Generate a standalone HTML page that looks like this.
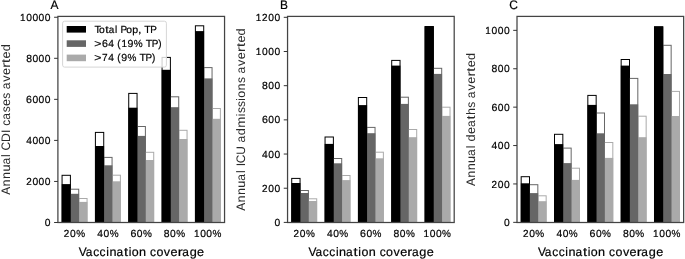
<!DOCTYPE html><html><head><meta charset="utf-8"><title>Vaccination coverage bar charts</title><style>html,body{margin:0;padding:0;background:#fff;}svg{display:block;will-change:transform;}text{font-family:"Liberation Sans", sans-serif;fill:#000;text-rendering:geometricPrecision;stroke:#000;stroke-width:0.2px;}text.r{stroke:none;fill:#2a2a2a;}</style></head><body>
<svg width="685" height="259" viewBox="0 0 685 259">
<rect x="0" y="0" width="685" height="259" fill="#fff"/>
<g>
<rect x="62.07" y="175.3" width="8.33" height="47.2" fill="none" stroke="#000000" stroke-width="1.0"/>
<rect x="70.4" y="189.2" width="8.33" height="33.3" fill="none" stroke="#666666" stroke-width="1.0"/>
<rect x="78.73" y="198.5" width="8.33" height="24" fill="none" stroke="#aaaaaa" stroke-width="1.0"/>
<rect x="95.4" y="132.4" width="8.33" height="90.1" fill="none" stroke="#000000" stroke-width="1.0"/>
<rect x="103.73" y="157.4" width="8.33" height="65.1" fill="none" stroke="#666666" stroke-width="1.0"/>
<rect x="112.06" y="175.2" width="8.33" height="47.3" fill="none" stroke="#aaaaaa" stroke-width="1.0"/>
<rect x="128.73" y="93.4" width="8.33" height="129.1" fill="none" stroke="#000000" stroke-width="1.0"/>
<rect x="137.06" y="126.5" width="8.33" height="96" fill="none" stroke="#666666" stroke-width="1.0"/>
<rect x="145.39" y="152.3" width="8.33" height="70.2" fill="none" stroke="#aaaaaa" stroke-width="1.0"/>
<rect x="162.06" y="57.4" width="8.33" height="165.1" fill="none" stroke="#000000" stroke-width="1.0"/>
<rect x="170.39" y="96.8" width="8.33" height="125.7" fill="none" stroke="#666666" stroke-width="1.0"/>
<rect x="178.72" y="130.3" width="8.33" height="92.2" fill="none" stroke="#aaaaaa" stroke-width="1.0"/>
<rect x="195.39" y="25.8" width="8.33" height="196.7" fill="none" stroke="#000000" stroke-width="1.0"/>
<rect x="203.72" y="67.6" width="8.33" height="154.9" fill="none" stroke="#666666" stroke-width="1.0"/>
<rect x="212.05" y="108.5" width="8.33" height="114" fill="none" stroke="#aaaaaa" stroke-width="1.0"/>
<rect x="78.38" y="201.9" width="9.03" height="20.6" fill="#aaaaaa"/>
<rect x="70.05" y="193.8" width="9.03" height="28.7" fill="#666666"/>
<rect x="61.72" y="184.1" width="9.03" height="38.4" fill="#000000"/>
<rect x="111.71" y="181.3" width="9.03" height="41.2" fill="#aaaaaa"/>
<rect x="103.38" y="165.3" width="9.03" height="57.2" fill="#666666"/>
<rect x="95.05" y="146" width="9.03" height="76.5" fill="#000000"/>
<rect x="145.04" y="160" width="9.03" height="62.5" fill="#aaaaaa"/>
<rect x="136.71" y="135.9" width="9.03" height="86.6" fill="#666666"/>
<rect x="128.38" y="107.7" width="9.03" height="114.8" fill="#000000"/>
<rect x="178.37" y="139" width="9.03" height="83.5" fill="#aaaaaa"/>
<rect x="170.04" y="107.2" width="9.03" height="115.3" fill="#666666"/>
<rect x="161.71" y="69.8" width="9.03" height="152.7" fill="#000000"/>
<rect x="211.7" y="118.8" width="9.03" height="103.7" fill="#aaaaaa"/>
<rect x="203.37" y="78.4" width="9.03" height="144.1" fill="#666666"/>
<rect x="195.04" y="31.1" width="9.03" height="191.4" fill="#000000"/>
<rect x="57.9" y="16.4" width="166.65" height="206.1" fill="none" stroke="#444" stroke-width="1.25"/>
<line x1="54.1" y1="222.5" x2="57.9" y2="222.5" stroke="#333" stroke-width="1.0"/>
<text transform="translate(50.10 226.05)" y="0" font-size="10.24"><tspan x="-5.31" textLength="5.72" lengthAdjust="spacingAndGlyphs">0</tspan></text>
<line x1="54.1" y1="181.45" x2="57.9" y2="181.45" stroke="#333" stroke-width="1.0"/>
<text transform="translate(50.10 185.00)" y="0" font-size="10.24"><tspan x="-23.96" textLength="5.52" lengthAdjust="spacingAndGlyphs">2</tspan><tspan x="-17.72" textLength="5.72" lengthAdjust="spacingAndGlyphs">0</tspan><tspan x="-11.52" textLength="5.72" lengthAdjust="spacingAndGlyphs">0</tspan><tspan x="-5.31" textLength="5.72" lengthAdjust="spacingAndGlyphs">0</tspan></text>
<line x1="54.1" y1="140.4" x2="57.9" y2="140.4" stroke="#333" stroke-width="1.0"/>
<text transform="translate(50.10 143.95)" y="0" font-size="10.24"><tspan x="-23.92" textLength="5.72" lengthAdjust="spacingAndGlyphs">4</tspan><tspan x="-17.72" textLength="5.72" lengthAdjust="spacingAndGlyphs">0</tspan><tspan x="-11.52" textLength="5.72" lengthAdjust="spacingAndGlyphs">0</tspan><tspan x="-5.31" textLength="5.72" lengthAdjust="spacingAndGlyphs">0</tspan></text>
<line x1="54.1" y1="99.35" x2="57.9" y2="99.35" stroke="#333" stroke-width="1.0"/>
<text transform="translate(50.10 102.90)" y="0" font-size="10.24"><tspan x="-24.02" textLength="5.92" lengthAdjust="spacingAndGlyphs">6</tspan><tspan x="-17.72" textLength="5.72" lengthAdjust="spacingAndGlyphs">0</tspan><tspan x="-11.52" textLength="5.72" lengthAdjust="spacingAndGlyphs">0</tspan><tspan x="-5.31" textLength="5.72" lengthAdjust="spacingAndGlyphs">0</tspan></text>
<line x1="54.1" y1="58.3" x2="57.9" y2="58.3" stroke="#333" stroke-width="1.0"/>
<text transform="translate(50.10 61.85)" y="0" font-size="10.24"><tspan x="-23.96" textLength="5.78" lengthAdjust="spacingAndGlyphs">8</tspan><tspan x="-17.72" textLength="5.72" lengthAdjust="spacingAndGlyphs">0</tspan><tspan x="-11.52" textLength="5.72" lengthAdjust="spacingAndGlyphs">0</tspan><tspan x="-5.31" textLength="5.72" lengthAdjust="spacingAndGlyphs">0</tspan></text>
<line x1="54.1" y1="17.25" x2="57.9" y2="17.25" stroke="#333" stroke-width="1.0"/>
<text transform="translate(50.10 20.80)" y="0" font-size="10.24"><tspan x="-30.08" textLength="5.52" lengthAdjust="spacingAndGlyphs">1</tspan><tspan x="-23.92" textLength="5.72" lengthAdjust="spacingAndGlyphs">0</tspan><tspan x="-17.72" textLength="5.72" lengthAdjust="spacingAndGlyphs">0</tspan><tspan x="-11.52" textLength="5.72" lengthAdjust="spacingAndGlyphs">0</tspan><tspan x="-5.31" textLength="5.72" lengthAdjust="spacingAndGlyphs">0</tspan></text>
<text transform="translate(74.56 236.80)" y="0" font-size="10.24"><tspan x="-10.71" textLength="5.52" lengthAdjust="spacingAndGlyphs">2</tspan><tspan x="-4.48" textLength="5.72" lengthAdjust="spacingAndGlyphs">0</tspan><tspan x="1.66" textLength="8.90" lengthAdjust="spacingAndGlyphs">%</tspan></text>
<text transform="translate(107.89 236.80)" y="0" font-size="10.24"><tspan x="-10.56" textLength="5.72" lengthAdjust="spacingAndGlyphs">4</tspan><tspan x="-4.36" textLength="5.72" lengthAdjust="spacingAndGlyphs">0</tspan><tspan x="1.78" textLength="8.90" lengthAdjust="spacingAndGlyphs">%</tspan></text>
<text transform="translate(141.22 236.80)" y="0" font-size="10.24"><tspan x="-10.77" textLength="5.92" lengthAdjust="spacingAndGlyphs">6</tspan><tspan x="-4.46" textLength="5.72" lengthAdjust="spacingAndGlyphs">0</tspan><tspan x="1.68" textLength="8.90" lengthAdjust="spacingAndGlyphs">%</tspan></text>
<text transform="translate(174.56 236.80)" y="0" font-size="10.24"><tspan x="-10.69" textLength="5.78" lengthAdjust="spacingAndGlyphs">8</tspan><tspan x="-4.45" textLength="5.72" lengthAdjust="spacingAndGlyphs">0</tspan><tspan x="1.69" textLength="8.90" lengthAdjust="spacingAndGlyphs">%</tspan></text>
<text transform="translate(207.88 236.80)" y="0" font-size="10.24"><tspan x="-13.91" textLength="5.52" lengthAdjust="spacingAndGlyphs">1</tspan><tspan x="-7.76" textLength="5.72" lengthAdjust="spacingAndGlyphs">0</tspan><tspan x="-1.56" textLength="5.72" lengthAdjust="spacingAndGlyphs">0</tspan><tspan x="4.59" textLength="8.90" lengthAdjust="spacingAndGlyphs">%</tspan></text>
<text transform="translate(141.22 255.70)" y="0" font-size="12.30"><tspan x="-62.42" textLength="7.96" lengthAdjust="spacingAndGlyphs">V</tspan><tspan x="-55.51" textLength="6.64" lengthAdjust="spacingAndGlyphs">a</tspan><tspan x="-48.08" textLength="5.97" lengthAdjust="spacingAndGlyphs">c</tspan><tspan x="-41.65" textLength="5.97" lengthAdjust="spacingAndGlyphs">c</tspan><tspan x="-35.01" textLength="2.66" lengthAdjust="spacingAndGlyphs">i</tspan><tspan x="-31.84" textLength="7.02" lengthAdjust="spacingAndGlyphs">n</tspan><tspan x="-24.81" textLength="6.64" lengthAdjust="spacingAndGlyphs">a</tspan><tspan x="-17.27" textLength="4.10" lengthAdjust="spacingAndGlyphs">t</tspan><tspan x="-12.59" textLength="2.66" lengthAdjust="spacingAndGlyphs">i</tspan><tspan x="-9.51" textLength="6.92" lengthAdjust="spacingAndGlyphs">o</tspan><tspan x="-2.25" textLength="7.02" lengthAdjust="spacingAndGlyphs">n</tspan> <tspan x="8.75" textLength="5.97" lengthAdjust="spacingAndGlyphs">c</tspan><tspan x="15.21" textLength="6.92" lengthAdjust="spacingAndGlyphs">o</tspan><tspan x="22.55" textLength="6.31" lengthAdjust="spacingAndGlyphs">v</tspan><tspan x="29.28" textLength="7.03" lengthAdjust="spacingAndGlyphs">e</tspan><tspan x="36.48" textLength="4.92" lengthAdjust="spacingAndGlyphs">r</tspan><tspan x="41.01" textLength="6.64" lengthAdjust="spacingAndGlyphs">a</tspan><tspan x="48.46" textLength="7.07" lengthAdjust="spacingAndGlyphs">g</tspan><tspan x="55.88" textLength="7.03" lengthAdjust="spacingAndGlyphs">e</tspan></text>
<text class="r" transform="translate(9.70 119.75) rotate(-90)" y="0" font-size="12.30"><tspan x="-74.88" textLength="7.96" lengthAdjust="spacingAndGlyphs">A</tspan><tspan x="-66.67" textLength="7.02" lengthAdjust="spacingAndGlyphs">n</tspan><tspan x="-59.25" textLength="7.02" lengthAdjust="spacingAndGlyphs">n</tspan><tspan x="-51.89" textLength="7.01" lengthAdjust="spacingAndGlyphs">u</tspan><tspan x="-44.81" textLength="6.64" lengthAdjust="spacingAndGlyphs">a</tspan><tspan x="-37.18" textLength="2.66" lengthAdjust="spacingAndGlyphs">l</tspan> <tspan x="-30.79" textLength="8.62" lengthAdjust="spacingAndGlyphs">C</tspan><tspan x="-22.18" textLength="8.74" lengthAdjust="spacingAndGlyphs">D</tspan><tspan x="-13.32" textLength="3.44" lengthAdjust="spacingAndGlyphs">I</tspan> <tspan x="-6.06" textLength="5.97" lengthAdjust="spacingAndGlyphs">c</tspan><tspan x="0.11" textLength="6.64" lengthAdjust="spacingAndGlyphs">a</tspan><tspan x="7.59" textLength="5.97" lengthAdjust="spacingAndGlyphs">s</tspan><tspan x="13.65" textLength="7.03" lengthAdjust="spacingAndGlyphs">e</tspan><tspan x="20.88" textLength="5.97" lengthAdjust="spacingAndGlyphs">s</tspan> <tspan x="30.39" textLength="6.64" lengthAdjust="spacingAndGlyphs">a</tspan><tspan x="38.03" textLength="6.31" lengthAdjust="spacingAndGlyphs">v</tspan><tspan x="44.75" textLength="7.03" lengthAdjust="spacingAndGlyphs">e</tspan><tspan x="51.96" textLength="4.92" lengthAdjust="spacingAndGlyphs">r</tspan><tspan x="56.86" textLength="4.10" lengthAdjust="spacingAndGlyphs">t</tspan><tspan x="61.35" textLength="7.03" lengthAdjust="spacingAndGlyphs">e</tspan><tspan x="68.55" textLength="7.07" lengthAdjust="spacingAndGlyphs">d</tspan></text>
<text transform="translate(54.50 9.30)" y="0" font-size="12.30"><tspan x="-3.98" textLength="7.96" lengthAdjust="spacingAndGlyphs">A</tspan></text>
</g>
<g>
<rect x="291.72" y="178.4" width="8.33" height="44.1" fill="none" stroke="#000000" stroke-width="1.0"/>
<rect x="300.05" y="190.5" width="8.33" height="32" fill="none" stroke="#666666" stroke-width="1.0"/>
<rect x="308.38" y="198.8" width="8.33" height="23.7" fill="none" stroke="#aaaaaa" stroke-width="1.0"/>
<rect x="325.05" y="137" width="8.33" height="85.5" fill="none" stroke="#000000" stroke-width="1.0"/>
<rect x="333.38" y="158.5" width="8.33" height="64" fill="none" stroke="#666666" stroke-width="1.0"/>
<rect x="341.71" y="175.5" width="8.33" height="47" fill="none" stroke="#aaaaaa" stroke-width="1.0"/>
<rect x="358.38" y="97.5" width="8.33" height="125" fill="none" stroke="#000000" stroke-width="1.0"/>
<rect x="366.71" y="127.4" width="8.33" height="95.1" fill="none" stroke="#666666" stroke-width="1.0"/>
<rect x="375.04" y="152.2" width="8.33" height="70.3" fill="none" stroke="#aaaaaa" stroke-width="1.0"/>
<rect x="391.71" y="60.4" width="8.33" height="162.1" fill="none" stroke="#000000" stroke-width="1.0"/>
<rect x="400.04" y="97.2" width="8.33" height="125.3" fill="none" stroke="#666666" stroke-width="1.0"/>
<rect x="408.37" y="129.5" width="8.33" height="93" fill="none" stroke="#aaaaaa" stroke-width="1.0"/>
<rect x="425.04" y="26.5" width="8.33" height="196" fill="none" stroke="#000000" stroke-width="1.0"/>
<rect x="433.37" y="68.3" width="8.33" height="154.2" fill="none" stroke="#666666" stroke-width="1.0"/>
<rect x="441.7" y="107.2" width="8.33" height="115.3" fill="none" stroke="#aaaaaa" stroke-width="1.0"/>
<rect x="308.03" y="201" width="9.03" height="21.5" fill="#aaaaaa"/>
<rect x="299.7" y="193" width="9.03" height="29.5" fill="#666666"/>
<rect x="291.37" y="183" width="9.03" height="39.5" fill="#000000"/>
<rect x="341.36" y="180.1" width="9.03" height="42.4" fill="#aaaaaa"/>
<rect x="333.03" y="163.3" width="9.03" height="59.2" fill="#666666"/>
<rect x="324.7" y="143.9" width="9.03" height="78.6" fill="#000000"/>
<rect x="374.69" y="158.3" width="9.03" height="64.2" fill="#aaaaaa"/>
<rect x="366.36" y="133.2" width="9.03" height="89.3" fill="#666666"/>
<rect x="358.03" y="105.1" width="9.03" height="117.4" fill="#000000"/>
<rect x="408.02" y="137.2" width="9.03" height="85.3" fill="#aaaaaa"/>
<rect x="399.69" y="103.9" width="9.03" height="118.6" fill="#666666"/>
<rect x="391.36" y="65.6" width="9.03" height="156.9" fill="#000000"/>
<rect x="441.35" y="115.9" width="9.03" height="106.6" fill="#aaaaaa"/>
<rect x="433.02" y="73.9" width="9.03" height="148.6" fill="#666666"/>
<rect x="424.69" y="26.5" width="9.03" height="196" fill="#000000"/>
<rect x="287.55" y="16.4" width="166.65" height="206.1" fill="none" stroke="#444" stroke-width="1.25"/>
<line x1="283.75" y1="222.4" x2="287.55" y2="222.4" stroke="#333" stroke-width="1.0"/>
<text transform="translate(279.75 225.95)" y="0" font-size="10.24"><tspan x="-5.31" textLength="5.72" lengthAdjust="spacingAndGlyphs">0</tspan></text>
<line x1="283.75" y1="188.22" x2="287.55" y2="188.22" stroke="#333" stroke-width="1.0"/>
<text transform="translate(279.75 191.77)" y="0" font-size="10.24"><tspan x="-17.75" textLength="5.52" lengthAdjust="spacingAndGlyphs">2</tspan><tspan x="-11.52" textLength="5.72" lengthAdjust="spacingAndGlyphs">0</tspan><tspan x="-5.31" textLength="5.72" lengthAdjust="spacingAndGlyphs">0</tspan></text>
<line x1="283.75" y1="154.04" x2="287.55" y2="154.04" stroke="#333" stroke-width="1.0"/>
<text transform="translate(279.75 157.59)" y="0" font-size="10.24"><tspan x="-17.72" textLength="5.72" lengthAdjust="spacingAndGlyphs">4</tspan><tspan x="-11.52" textLength="5.72" lengthAdjust="spacingAndGlyphs">0</tspan><tspan x="-5.31" textLength="5.72" lengthAdjust="spacingAndGlyphs">0</tspan></text>
<line x1="283.75" y1="119.86" x2="287.55" y2="119.86" stroke="#333" stroke-width="1.0"/>
<text transform="translate(279.75 123.41)" y="0" font-size="10.24"><tspan x="-17.82" textLength="5.92" lengthAdjust="spacingAndGlyphs">6</tspan><tspan x="-11.52" textLength="5.72" lengthAdjust="spacingAndGlyphs">0</tspan><tspan x="-5.31" textLength="5.72" lengthAdjust="spacingAndGlyphs">0</tspan></text>
<line x1="283.75" y1="85.68" x2="287.55" y2="85.68" stroke="#333" stroke-width="1.0"/>
<text transform="translate(279.75 89.23)" y="0" font-size="10.24"><tspan x="-17.75" textLength="5.78" lengthAdjust="spacingAndGlyphs">8</tspan><tspan x="-11.52" textLength="5.72" lengthAdjust="spacingAndGlyphs">0</tspan><tspan x="-5.31" textLength="5.72" lengthAdjust="spacingAndGlyphs">0</tspan></text>
<line x1="283.75" y1="51.5" x2="287.55" y2="51.5" stroke="#333" stroke-width="1.0"/>
<text transform="translate(279.75 55.05)" y="0" font-size="10.24"><tspan x="-23.88" textLength="5.52" lengthAdjust="spacingAndGlyphs">1</tspan><tspan x="-17.72" textLength="5.72" lengthAdjust="spacingAndGlyphs">0</tspan><tspan x="-11.52" textLength="5.72" lengthAdjust="spacingAndGlyphs">0</tspan><tspan x="-5.31" textLength="5.72" lengthAdjust="spacingAndGlyphs">0</tspan></text>
<line x1="283.75" y1="17.32" x2="287.55" y2="17.32" stroke="#333" stroke-width="1.0"/>
<text transform="translate(279.75 20.87)" y="0" font-size="10.24"><tspan x="-23.88" textLength="5.52" lengthAdjust="spacingAndGlyphs">1</tspan><tspan x="-17.75" textLength="5.52" lengthAdjust="spacingAndGlyphs">2</tspan><tspan x="-11.52" textLength="5.72" lengthAdjust="spacingAndGlyphs">0</tspan><tspan x="-5.31" textLength="5.72" lengthAdjust="spacingAndGlyphs">0</tspan></text>
<text transform="translate(304.22 236.80)" y="0" font-size="10.24"><tspan x="-10.71" textLength="5.52" lengthAdjust="spacingAndGlyphs">2</tspan><tspan x="-4.48" textLength="5.72" lengthAdjust="spacingAndGlyphs">0</tspan><tspan x="1.66" textLength="8.90" lengthAdjust="spacingAndGlyphs">%</tspan></text>
<text transform="translate(337.55 236.80)" y="0" font-size="10.24"><tspan x="-10.56" textLength="5.72" lengthAdjust="spacingAndGlyphs">4</tspan><tspan x="-4.36" textLength="5.72" lengthAdjust="spacingAndGlyphs">0</tspan><tspan x="1.78" textLength="8.90" lengthAdjust="spacingAndGlyphs">%</tspan></text>
<text transform="translate(370.88 236.80)" y="0" font-size="10.24"><tspan x="-10.77" textLength="5.92" lengthAdjust="spacingAndGlyphs">6</tspan><tspan x="-4.46" textLength="5.72" lengthAdjust="spacingAndGlyphs">0</tspan><tspan x="1.68" textLength="8.90" lengthAdjust="spacingAndGlyphs">%</tspan></text>
<text transform="translate(404.21 236.80)" y="0" font-size="10.24"><tspan x="-10.69" textLength="5.78" lengthAdjust="spacingAndGlyphs">8</tspan><tspan x="-4.45" textLength="5.72" lengthAdjust="spacingAndGlyphs">0</tspan><tspan x="1.69" textLength="8.90" lengthAdjust="spacingAndGlyphs">%</tspan></text>
<text transform="translate(437.53 236.80)" y="0" font-size="10.24"><tspan x="-13.91" textLength="5.52" lengthAdjust="spacingAndGlyphs">1</tspan><tspan x="-7.76" textLength="5.72" lengthAdjust="spacingAndGlyphs">0</tspan><tspan x="-1.56" textLength="5.72" lengthAdjust="spacingAndGlyphs">0</tspan><tspan x="4.59" textLength="8.90" lengthAdjust="spacingAndGlyphs">%</tspan></text>
<text transform="translate(370.88 255.70)" y="0" font-size="12.30"><tspan x="-62.42" textLength="7.96" lengthAdjust="spacingAndGlyphs">V</tspan><tspan x="-55.51" textLength="6.64" lengthAdjust="spacingAndGlyphs">a</tspan><tspan x="-48.08" textLength="5.97" lengthAdjust="spacingAndGlyphs">c</tspan><tspan x="-41.65" textLength="5.97" lengthAdjust="spacingAndGlyphs">c</tspan><tspan x="-35.01" textLength="2.66" lengthAdjust="spacingAndGlyphs">i</tspan><tspan x="-31.84" textLength="7.02" lengthAdjust="spacingAndGlyphs">n</tspan><tspan x="-24.81" textLength="6.64" lengthAdjust="spacingAndGlyphs">a</tspan><tspan x="-17.27" textLength="4.10" lengthAdjust="spacingAndGlyphs">t</tspan><tspan x="-12.59" textLength="2.66" lengthAdjust="spacingAndGlyphs">i</tspan><tspan x="-9.51" textLength="6.92" lengthAdjust="spacingAndGlyphs">o</tspan><tspan x="-2.25" textLength="7.02" lengthAdjust="spacingAndGlyphs">n</tspan> <tspan x="8.75" textLength="5.97" lengthAdjust="spacingAndGlyphs">c</tspan><tspan x="15.21" textLength="6.92" lengthAdjust="spacingAndGlyphs">o</tspan><tspan x="22.55" textLength="6.31" lengthAdjust="spacingAndGlyphs">v</tspan><tspan x="29.28" textLength="7.03" lengthAdjust="spacingAndGlyphs">e</tspan><tspan x="36.48" textLength="4.92" lengthAdjust="spacingAndGlyphs">r</tspan><tspan x="41.01" textLength="6.64" lengthAdjust="spacingAndGlyphs">a</tspan><tspan x="48.46" textLength="7.07" lengthAdjust="spacingAndGlyphs">g</tspan><tspan x="55.88" textLength="7.03" lengthAdjust="spacingAndGlyphs">e</tspan></text>
<text class="r" transform="translate(245.00 119.90) rotate(-90)" y="0" font-size="12.30"><tspan x="-90.83" textLength="7.96" lengthAdjust="spacingAndGlyphs">A</tspan><tspan x="-82.63" textLength="7.02" lengthAdjust="spacingAndGlyphs">n</tspan><tspan x="-75.21" textLength="7.02" lengthAdjust="spacingAndGlyphs">n</tspan><tspan x="-67.84" textLength="7.01" lengthAdjust="spacingAndGlyphs">u</tspan><tspan x="-60.77" textLength="6.64" lengthAdjust="spacingAndGlyphs">a</tspan><tspan x="-53.14" textLength="2.66" lengthAdjust="spacingAndGlyphs">l</tspan> <tspan x="-46.46" textLength="3.44" lengthAdjust="spacingAndGlyphs">I</tspan><tspan x="-43.30" textLength="8.62" lengthAdjust="spacingAndGlyphs">C</tspan><tspan x="-34.87" textLength="8.62" lengthAdjust="spacingAndGlyphs">U</tspan> <tspan x="-22.73" textLength="6.64" lengthAdjust="spacingAndGlyphs">a</tspan><tspan x="-15.28" textLength="7.07" lengthAdjust="spacingAndGlyphs">d</tspan><tspan x="-7.79" textLength="11.11" lengthAdjust="spacingAndGlyphs">m</tspan><tspan x="3.73" textLength="2.66" lengthAdjust="spacingAndGlyphs">i</tspan><tspan x="6.83" textLength="5.97" lengthAdjust="spacingAndGlyphs">s</tspan><tspan x="12.92" textLength="5.97" lengthAdjust="spacingAndGlyphs">s</tspan><tspan x="19.18" textLength="2.66" lengthAdjust="spacingAndGlyphs">i</tspan><tspan x="22.25" textLength="6.92" lengthAdjust="spacingAndGlyphs">o</tspan><tspan x="29.51" textLength="7.02" lengthAdjust="spacingAndGlyphs">n</tspan><tspan x="36.84" textLength="5.97" lengthAdjust="spacingAndGlyphs">s</tspan> <tspan x="46.35" textLength="6.64" lengthAdjust="spacingAndGlyphs">a</tspan><tspan x="53.99" textLength="6.31" lengthAdjust="spacingAndGlyphs">v</tspan><tspan x="60.71" textLength="7.03" lengthAdjust="spacingAndGlyphs">e</tspan><tspan x="67.91" textLength="4.92" lengthAdjust="spacingAndGlyphs">r</tspan><tspan x="72.82" textLength="4.10" lengthAdjust="spacingAndGlyphs">t</tspan><tspan x="77.31" textLength="7.03" lengthAdjust="spacingAndGlyphs">e</tspan><tspan x="84.51" textLength="7.07" lengthAdjust="spacingAndGlyphs">d</tspan></text>
<text transform="translate(284.15 9.30)" y="0" font-size="12.30"><tspan x="-4.15" textLength="7.96" lengthAdjust="spacingAndGlyphs">B</tspan></text>
</g>
<g>
<rect x="521.17" y="176.7" width="8.33" height="45.8" fill="none" stroke="#000000" stroke-width="1.0"/>
<rect x="529.5" y="184.7" width="8.33" height="37.8" fill="none" stroke="#666666" stroke-width="1.0"/>
<rect x="537.83" y="195.8" width="8.33" height="26.7" fill="none" stroke="#aaaaaa" stroke-width="1.0"/>
<rect x="554.5" y="134.3" width="8.33" height="88.2" fill="none" stroke="#000000" stroke-width="1.0"/>
<rect x="562.83" y="148.1" width="8.33" height="74.4" fill="none" stroke="#666666" stroke-width="1.0"/>
<rect x="571.16" y="168.2" width="8.33" height="54.3" fill="none" stroke="#aaaaaa" stroke-width="1.0"/>
<rect x="587.83" y="95.4" width="8.33" height="127.1" fill="none" stroke="#000000" stroke-width="1.0"/>
<rect x="596.16" y="113" width="8.33" height="109.5" fill="none" stroke="#666666" stroke-width="1.0"/>
<rect x="604.49" y="142.5" width="8.33" height="80" fill="none" stroke="#aaaaaa" stroke-width="1.0"/>
<rect x="621.16" y="59.5" width="8.33" height="163" fill="none" stroke="#000000" stroke-width="1.0"/>
<rect x="629.49" y="78.4" width="8.33" height="144.1" fill="none" stroke="#666666" stroke-width="1.0"/>
<rect x="637.82" y="116.2" width="8.33" height="106.3" fill="none" stroke="#aaaaaa" stroke-width="1.0"/>
<rect x="654.49" y="26.7" width="8.33" height="195.8" fill="none" stroke="#000000" stroke-width="1.0"/>
<rect x="662.82" y="45.3" width="8.33" height="177.2" fill="none" stroke="#666666" stroke-width="1.0"/>
<rect x="671.15" y="91.4" width="8.33" height="131.1" fill="none" stroke="#aaaaaa" stroke-width="1.0"/>
<rect x="537.48" y="201.2" width="9.03" height="21.3" fill="#aaaaaa"/>
<rect x="529.15" y="193.1" width="9.03" height="29.4" fill="#666666"/>
<rect x="520.82" y="183.3" width="9.03" height="39.2" fill="#000000"/>
<rect x="570.81" y="179.9" width="9.03" height="42.6" fill="#aaaaaa"/>
<rect x="562.48" y="163.1" width="9.03" height="59.4" fill="#666666"/>
<rect x="554.15" y="144.1" width="9.03" height="78.4" fill="#000000"/>
<rect x="604.14" y="157.9" width="9.03" height="64.6" fill="#aaaaaa"/>
<rect x="595.81" y="133.3" width="9.03" height="89.2" fill="#666666"/>
<rect x="587.48" y="104.9" width="9.03" height="117.6" fill="#000000"/>
<rect x="637.47" y="137.2" width="9.03" height="85.3" fill="#aaaaaa"/>
<rect x="629.14" y="104.3" width="9.03" height="118.2" fill="#666666"/>
<rect x="620.81" y="65.6" width="9.03" height="156.9" fill="#000000"/>
<rect x="670.8" y="116" width="9.03" height="106.5" fill="#aaaaaa"/>
<rect x="662.47" y="74" width="9.03" height="148.5" fill="#666666"/>
<rect x="654.14" y="26.7" width="9.03" height="195.8" fill="#000000"/>
<rect x="517" y="16.4" width="166.65" height="206.1" fill="none" stroke="#444" stroke-width="1.25"/>
<line x1="513.2" y1="222.35" x2="517" y2="222.35" stroke="#333" stroke-width="1.0"/>
<text transform="translate(509.20 225.90)" y="0" font-size="10.24"><tspan x="-5.31" textLength="5.72" lengthAdjust="spacingAndGlyphs">0</tspan></text>
<line x1="513.2" y1="183.95" x2="517" y2="183.95" stroke="#333" stroke-width="1.0"/>
<text transform="translate(509.20 187.50)" y="0" font-size="10.24"><tspan x="-17.75" textLength="5.52" lengthAdjust="spacingAndGlyphs">2</tspan><tspan x="-11.52" textLength="5.72" lengthAdjust="spacingAndGlyphs">0</tspan><tspan x="-5.31" textLength="5.72" lengthAdjust="spacingAndGlyphs">0</tspan></text>
<line x1="513.2" y1="145.55" x2="517" y2="145.55" stroke="#333" stroke-width="1.0"/>
<text transform="translate(509.20 149.10)" y="0" font-size="10.24"><tspan x="-17.72" textLength="5.72" lengthAdjust="spacingAndGlyphs">4</tspan><tspan x="-11.52" textLength="5.72" lengthAdjust="spacingAndGlyphs">0</tspan><tspan x="-5.31" textLength="5.72" lengthAdjust="spacingAndGlyphs">0</tspan></text>
<line x1="513.2" y1="107.15" x2="517" y2="107.15" stroke="#333" stroke-width="1.0"/>
<text transform="translate(509.20 110.70)" y="0" font-size="10.24"><tspan x="-17.82" textLength="5.92" lengthAdjust="spacingAndGlyphs">6</tspan><tspan x="-11.52" textLength="5.72" lengthAdjust="spacingAndGlyphs">0</tspan><tspan x="-5.31" textLength="5.72" lengthAdjust="spacingAndGlyphs">0</tspan></text>
<line x1="513.2" y1="68.75" x2="517" y2="68.75" stroke="#333" stroke-width="1.0"/>
<text transform="translate(509.20 72.30)" y="0" font-size="10.24"><tspan x="-17.75" textLength="5.78" lengthAdjust="spacingAndGlyphs">8</tspan><tspan x="-11.52" textLength="5.72" lengthAdjust="spacingAndGlyphs">0</tspan><tspan x="-5.31" textLength="5.72" lengthAdjust="spacingAndGlyphs">0</tspan></text>
<line x1="513.2" y1="30.35" x2="517" y2="30.35" stroke="#333" stroke-width="1.0"/>
<text transform="translate(509.20 33.90)" y="0" font-size="10.24"><tspan x="-23.88" textLength="5.52" lengthAdjust="spacingAndGlyphs">1</tspan><tspan x="-17.72" textLength="5.72" lengthAdjust="spacingAndGlyphs">0</tspan><tspan x="-11.52" textLength="5.72" lengthAdjust="spacingAndGlyphs">0</tspan><tspan x="-5.31" textLength="5.72" lengthAdjust="spacingAndGlyphs">0</tspan></text>
<text transform="translate(533.66 236.80)" y="0" font-size="10.24"><tspan x="-10.71" textLength="5.52" lengthAdjust="spacingAndGlyphs">2</tspan><tspan x="-4.48" textLength="5.72" lengthAdjust="spacingAndGlyphs">0</tspan><tspan x="1.66" textLength="8.90" lengthAdjust="spacingAndGlyphs">%</tspan></text>
<text transform="translate(567.00 236.80)" y="0" font-size="10.24"><tspan x="-10.56" textLength="5.72" lengthAdjust="spacingAndGlyphs">4</tspan><tspan x="-4.36" textLength="5.72" lengthAdjust="spacingAndGlyphs">0</tspan><tspan x="1.78" textLength="8.90" lengthAdjust="spacingAndGlyphs">%</tspan></text>
<text transform="translate(600.33 236.80)" y="0" font-size="10.24"><tspan x="-10.77" textLength="5.92" lengthAdjust="spacingAndGlyphs">6</tspan><tspan x="-4.46" textLength="5.72" lengthAdjust="spacingAndGlyphs">0</tspan><tspan x="1.68" textLength="8.90" lengthAdjust="spacingAndGlyphs">%</tspan></text>
<text transform="translate(633.65 236.80)" y="0" font-size="10.24"><tspan x="-10.69" textLength="5.78" lengthAdjust="spacingAndGlyphs">8</tspan><tspan x="-4.45" textLength="5.72" lengthAdjust="spacingAndGlyphs">0</tspan><tspan x="1.69" textLength="8.90" lengthAdjust="spacingAndGlyphs">%</tspan></text>
<text transform="translate(666.99 236.80)" y="0" font-size="10.24"><tspan x="-13.91" textLength="5.52" lengthAdjust="spacingAndGlyphs">1</tspan><tspan x="-7.76" textLength="5.72" lengthAdjust="spacingAndGlyphs">0</tspan><tspan x="-1.56" textLength="5.72" lengthAdjust="spacingAndGlyphs">0</tspan><tspan x="4.59" textLength="8.90" lengthAdjust="spacingAndGlyphs">%</tspan></text>
<text transform="translate(600.33 255.70)" y="0" font-size="12.30"><tspan x="-62.42" textLength="7.96" lengthAdjust="spacingAndGlyphs">V</tspan><tspan x="-55.51" textLength="6.64" lengthAdjust="spacingAndGlyphs">a</tspan><tspan x="-48.08" textLength="5.97" lengthAdjust="spacingAndGlyphs">c</tspan><tspan x="-41.65" textLength="5.97" lengthAdjust="spacingAndGlyphs">c</tspan><tspan x="-35.01" textLength="2.66" lengthAdjust="spacingAndGlyphs">i</tspan><tspan x="-31.84" textLength="7.02" lengthAdjust="spacingAndGlyphs">n</tspan><tspan x="-24.81" textLength="6.64" lengthAdjust="spacingAndGlyphs">a</tspan><tspan x="-17.27" textLength="4.10" lengthAdjust="spacingAndGlyphs">t</tspan><tspan x="-12.59" textLength="2.66" lengthAdjust="spacingAndGlyphs">i</tspan><tspan x="-9.51" textLength="6.92" lengthAdjust="spacingAndGlyphs">o</tspan><tspan x="-2.25" textLength="7.02" lengthAdjust="spacingAndGlyphs">n</tspan> <tspan x="8.75" textLength="5.97" lengthAdjust="spacingAndGlyphs">c</tspan><tspan x="15.21" textLength="6.92" lengthAdjust="spacingAndGlyphs">o</tspan><tspan x="22.55" textLength="6.31" lengthAdjust="spacingAndGlyphs">v</tspan><tspan x="29.28" textLength="7.03" lengthAdjust="spacingAndGlyphs">e</tspan><tspan x="36.48" textLength="4.92" lengthAdjust="spacingAndGlyphs">r</tspan><tspan x="41.01" textLength="6.64" lengthAdjust="spacingAndGlyphs">a</tspan><tspan x="48.46" textLength="7.07" lengthAdjust="spacingAndGlyphs">g</tspan><tspan x="55.88" textLength="7.03" lengthAdjust="spacingAndGlyphs">e</tspan></text>
<text class="r" transform="translate(474.80 119.80) rotate(-90)" y="0" font-size="12.30"><tspan x="-66.15" textLength="7.96" lengthAdjust="spacingAndGlyphs">A</tspan><tspan x="-57.94" textLength="7.02" lengthAdjust="spacingAndGlyphs">n</tspan><tspan x="-50.53" textLength="7.02" lengthAdjust="spacingAndGlyphs">n</tspan><tspan x="-43.16" textLength="7.01" lengthAdjust="spacingAndGlyphs">u</tspan><tspan x="-36.09" textLength="6.64" lengthAdjust="spacingAndGlyphs">a</tspan><tspan x="-28.46" textLength="2.66" lengthAdjust="spacingAndGlyphs">l</tspan> <tspan x="-21.67" textLength="7.07" lengthAdjust="spacingAndGlyphs">d</tspan><tspan x="-14.25" textLength="7.03" lengthAdjust="spacingAndGlyphs">e</tspan><tspan x="-7.32" textLength="6.64" lengthAdjust="spacingAndGlyphs">a</tspan><tspan x="0.21" textLength="4.10" lengthAdjust="spacingAndGlyphs">t</tspan><tspan x="4.78" textLength="7.07" lengthAdjust="spacingAndGlyphs">h</tspan><tspan x="12.16" textLength="5.97" lengthAdjust="spacingAndGlyphs">s</tspan> <tspan x="21.66" textLength="6.64" lengthAdjust="spacingAndGlyphs">a</tspan><tspan x="29.30" textLength="6.31" lengthAdjust="spacingAndGlyphs">v</tspan><tspan x="36.03" textLength="7.03" lengthAdjust="spacingAndGlyphs">e</tspan><tspan x="43.23" textLength="4.92" lengthAdjust="spacingAndGlyphs">r</tspan><tspan x="48.13" textLength="4.10" lengthAdjust="spacingAndGlyphs">t</tspan><tspan x="52.63" textLength="7.03" lengthAdjust="spacingAndGlyphs">e</tspan><tspan x="59.83" textLength="7.07" lengthAdjust="spacingAndGlyphs">d</tspan></text>
<text transform="translate(513.60 9.30)" y="0" font-size="12.30"><tspan x="-4.38" textLength="8.62" lengthAdjust="spacingAndGlyphs">C</tspan></text>
</g>
<g>
<rect x="62.6" y="21.2" width="103.8" height="45.9" rx="2" ry="2" fill="#fff" fill-opacity="0.8" stroke="#d6d6d6" stroke-width="1"/>
<rect x="66.7" y="26" width="19.3" height="6.6" fill="#000000"/>
<text transform="translate(94.70 32.60)" y="0" font-size="10.24"><tspan x="-0.24" textLength="6.50" lengthAdjust="spacingAndGlyphs">T</tspan><tspan x="4.43" textLength="5.77" lengthAdjust="spacingAndGlyphs">o</tspan><tspan x="10.46" textLength="3.41" lengthAdjust="spacingAndGlyphs">t</tspan><tspan x="13.98" textLength="5.52" lengthAdjust="spacingAndGlyphs">a</tspan><tspan x="20.34" textLength="2.21" lengthAdjust="spacingAndGlyphs">l</tspan> <tspan x="25.69" textLength="6.63" lengthAdjust="spacingAndGlyphs">P</tspan><tspan x="31.53" textLength="5.77" lengthAdjust="spacingAndGlyphs">o</tspan><tspan x="37.59" textLength="5.90" lengthAdjust="spacingAndGlyphs">p</tspan><tspan x="43.32" textLength="3.41" lengthAdjust="spacingAndGlyphs">,</tspan> <tspan x="49.51" textLength="6.50" lengthAdjust="spacingAndGlyphs">T</tspan><tspan x="55.53" textLength="6.63" lengthAdjust="spacingAndGlyphs">P</tspan></text>
<rect x="66.7" y="40.3" width="19.3" height="6.6" fill="#666666"/>
<text transform="translate(94.70 46.85)" y="0" font-size="10.24"><tspan x="-0.54" textLength="7.18" lengthAdjust="spacingAndGlyphs">&gt;</tspan><tspan x="7.28" textLength="5.92" lengthAdjust="spacingAndGlyphs">6</tspan><tspan x="13.58" textLength="5.72" lengthAdjust="spacingAndGlyphs">4</tspan> <tspan x="22.64" textLength="3.31" lengthAdjust="spacingAndGlyphs">(</tspan><tspan x="26.74" textLength="5.52" lengthAdjust="spacingAndGlyphs">1</tspan><tspan x="32.77" textLength="5.90" lengthAdjust="spacingAndGlyphs">9</tspan><tspan x="39.03" textLength="8.90" lengthAdjust="spacingAndGlyphs">%</tspan> <tspan x="50.95" textLength="6.50" lengthAdjust="spacingAndGlyphs">T</tspan><tspan x="56.97" textLength="6.63" lengthAdjust="spacingAndGlyphs">P</tspan><tspan x="63.55" textLength="3.31" lengthAdjust="spacingAndGlyphs">)</tspan></text>
<rect x="66.7" y="54.6" width="19.3" height="6.6" fill="#aaaaaa"/>
<text transform="translate(94.70 61.10)" y="0" font-size="10.24"><tspan x="-0.54" textLength="7.18" lengthAdjust="spacingAndGlyphs">&gt;</tspan><tspan x="7.42" textLength="5.59" lengthAdjust="spacingAndGlyphs">7</tspan><tspan x="13.58" textLength="5.72" lengthAdjust="spacingAndGlyphs">4</tspan> <tspan x="22.64" textLength="3.31" lengthAdjust="spacingAndGlyphs">(</tspan><tspan x="26.56" textLength="5.90" lengthAdjust="spacingAndGlyphs">9</tspan><tspan x="32.83" textLength="8.90" lengthAdjust="spacingAndGlyphs">%</tspan> <tspan x="44.75" textLength="6.50" lengthAdjust="spacingAndGlyphs">T</tspan><tspan x="50.76" textLength="6.63" lengthAdjust="spacingAndGlyphs">P</tspan><tspan x="57.35" textLength="3.31" lengthAdjust="spacingAndGlyphs">)</tspan></text>
</g>
</svg></body></html>
